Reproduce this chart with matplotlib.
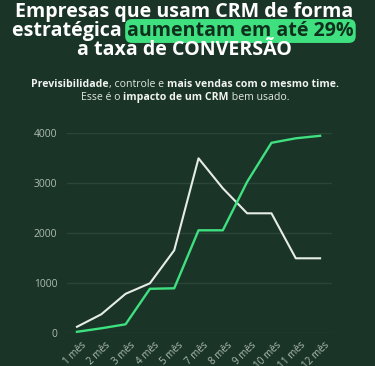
import matplotlib.pyplot as plt
from matplotlib.transforms import ScaledTranslation

plt.rcParams['font.family'] = ['Open Sans', 'DejaVu Sans']

# data
meses = ['1 mês', '2 mês', '3 mês', '4 mês', '5 mês', '7 mês',
         '8 mês', '9 mês', '10 mês', '11 mês', '12 mês']
serie_branca = [130, 380, 790, 1000, 1660, 3500, 2900, 2400, 2400, 1500, 1500]
serie_verde = [30, 100, 180, 890, 900, 2060, 2060, 3030, 3810, 3900, 3950]
y_ticks = [0, 1000, 2000, 3000, 4000]

BG = '#1a3427'
GREEN = '#3fe07f'
WHITE = '#e6ece7'
TICK = '#aebcb2'
GRID = '#2b4638'

W, H = 375, 366
fig = plt.figure(figsize=(W / 100, H / 100), dpi=100, facecolor=BG)

# axes placed in pixel coords: x 67..332, y(4000)=133, y(0)=333
ax = fig.add_axes([67 / W, 1 - 333.3 / H, (332 - 67) / W, (333.3 - 133.3) / H])
ax.set_facecolor(BG)
x = list(range(len(meses)))
ax.plot(x, serie_branca, color=WHITE, lw=1.5, clip_on=False, zorder=3)
ax.plot(x, serie_verde, color=GREEN, lw=1.7, clip_on=False, zorder=4)
ax.set_xlim(-0.41, 10.49)
ax.set_ylim(0, 4000)
ax.set_yticks(y_ticks)
ax.set_xticks(x)
ax.set_xticklabels(meses, rotation=45, ha='right', rotation_mode='anchor')
ax.tick_params(axis='both', length=0, colors=TICK, labelsize=7.4)
ax.tick_params(axis='x', labelsize=7.1, pad=4.5)
ax.tick_params(axis='y', pad=7)
# nudge the rotated labels a bit to the right
shift = ScaledTranslation(4 / 100, 0, fig.dpi_scale_trans)
for lab in ax.get_xticklabels():
    lab.set_transform(lab.get_transform() + shift)
ax.grid(axis='y', color=GRID, lw=1)
ax.set_axisbelow(True)
for s in ax.spines.values():
    s.set_visible(False)

renderer = fig.canvas.get_renderer()


def rich_line(parts, y, size, cx=W / 2):
    # draw a centred line made of pieces (text, weight, color, bbox)
    texts, widths = [], []
    for txt, weight, col, box in parts:
        t = fig.text(0, 1 - y / H, txt, fontsize=size, fontweight=weight, color=col,
                     va='baseline', ha='left')
        widths.append(t.get_window_extent(renderer).width)
        if box is not None:
            t.set_bbox(box)
        texts.append(t)
    xpos = cx - sum(widths) / 2
    for t, w in zip(texts, widths):
        t.set_x(xpos / W)
        xpos += w
    return texts


title_size = 14.1
rich_line([('Empresas que usam CRM de forma', 'bold', 'white', None)], 16.5, title_size, cx=184)
box = dict(boxstyle='round,pad=0.1,rounding_size=0.35', fc=GREEN, ec='none')
rich_line([('estratégica ', 'bold', 'white', None),
           ('aumentam em até 29%', 'bold', '#10301d', box)], 36, title_size, cx=183)
rich_line([('a taxa de CONVERSÃO', 'bold', 'white', None)], 55, title_size, cx=184)

sub_size = 7.6
rich_line([('Previsibilidade', 'bold', '#f2f4f2', None),
           (', controle e ', 'normal', '#e3e8e4', None),
           ('mais vendas com o mesmo time.', 'bold', '#f2f4f2', None)], 87, sub_size, cx=185)
rich_line([('Esse é o ', 'normal', '#e3e8e4', None),
           ('impacto de um CRM', 'bold', '#f2f4f2', None),
           (' bem usado.', 'normal', '#e3e8e4', None)], 100, sub_size, cx=185)

fig.savefig('out.png', dpi=100, facecolor=BG)
